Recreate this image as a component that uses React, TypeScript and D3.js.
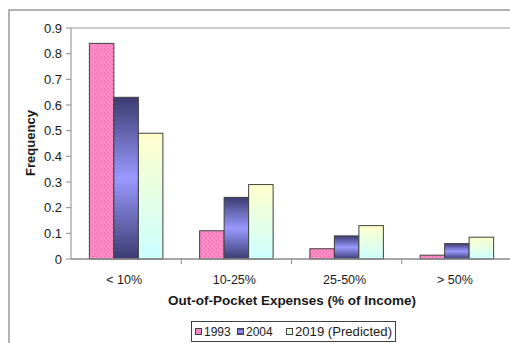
import React from "react";
import * as d3 from "d3";

const categories = ["< 10%", "10-25%", "25-50%", "> 50%"];
const seriesNames = ["1993", "2004", "2019 (Predicted)"];
const values1993 = [0.84, 0.11, 0.04, 0.015];
const values2004 = [0.63, 0.24, 0.09, 0.06];
const values2019 = [0.49, 0.29, 0.13, 0.085];
const yTicks = [0, 0.1, 0.2, 0.3, 0.4, 0.5, 0.6, 0.7, 0.8, 0.9];

const seriesValues = [values1993, values2004, values2019];
const fills = ["url(#pinkPat)", "url(#blueGrad)", "url(#yellowGrad)"];

export default function App() {
  const W = 510, H = 343;
  const left = 71, right = 512, top = 28, bottom = 259;
  const x = d3.scaleBand<string>().domain(categories).range([left, right]).paddingInner(0).paddingOuter(0);
  const y = d3.scaleLinear().domain([0, 0.9]).range([bottom, top]);
  const bw = x.bandwidth() / 4.5;
  const font = "'Liberation Sans', Arial, sans-serif";
  const textCol = "#1a1a1a";
  const legendX = [195, 237, 286];

  return (
    <svg width={W} height={H} style={{ position: "absolute", left: 0, top: 0, display: "block" }} fontFamily={font}>
      <defs>
        <pattern id="pinkPat" patternUnits="userSpaceOnUse" width="4" height="4">
          <rect width="4" height="4" fill="#FF8AC8" />
          <rect x="0" y="0" width="1" height="1" fill="#E070A8" />
          <rect x="2" y="2" width="1" height="1" fill="#E070A8" />
        </pattern>
        <linearGradient id="blueGrad" x1="0" y1="0" x2="0" y2="1">
          <stop offset="0" stopColor="#3C3C72" />
          <stop offset="0.5" stopColor="#9999FF" />
          <stop offset="1" stopColor="#3C3C72" />
        </linearGradient>
        <linearGradient id="yellowGrad" x1="0" y1="0" x2="0" y2="1">
          <stop offset="0" stopColor="#FFFFCC" />
          <stop offset="1" stopColor="#CCFFFF" />
        </linearGradient>
      </defs>
      <rect x={0} y={0} width={W} height={H} fill="#fff" />
      {/* outer chart border */}
      <path d={`M9,${H} V10 H${W}`} fill="none" stroke="#9a9a9a" strokeWidth={1.5} />
      {/* plot area top border */}
      <line x1={left} x2={W} y1={top} y2={top} stroke="#9a9a9a" strokeWidth={1} />
      {/* bars */}
      {categories.map((c, ci) => (
        <g key={c}>
          {seriesValues.map((vals, si) => {
            const x0 = (x(c) as number) + bw * 0.75 + si * bw;
            return (
              <rect key={si} x={x0} y={y(vals[ci])} width={bw} height={bottom - y(vals[ci])}
                fill={fills[si]} stroke="#404040" strokeWidth={1} />
            );
          })}
        </g>
      ))}
      {/* y axis */}
      <line x1={left} x2={left} y1={top} y2={bottom} stroke="#8a8a8a" strokeWidth={1} />
      {yTicks.map((t) => (
        <g key={t}>
          <line x1={left - 5} x2={left} y1={y(t)} y2={y(t)} stroke="#8a8a8a" />
          <text x={left - 9} y={y(t)} dy="0.35em" textAnchor="end" fontSize={13} fill={textCol}>{t === 0 ? "0" : t.toFixed(1)}</text>
        </g>
      ))}
      {/* x axis */}
      <line x1={left} x2={W} y1={bottom} y2={bottom} stroke="#8a8a8a" strokeWidth={1.5} />
      {categories.map((c, i) => (
        <g key={c}>
          {i > 0 && <line x1={x(c) as number} x2={x(c) as number} y1={bottom} y2={bottom + 5} stroke="#8a8a8a" />}
          <text x={(x(c) as number) + x.bandwidth() / 2 - 2} y={280} dy="0.35em" textAnchor="middle" fontSize={12.5} fill={textCol}>{c}</text>
        </g>
      ))}
      <text x={292} y={300} dy="0.35em" textAnchor="middle" fontSize={13} fontWeight="bold" fill={textCol}
        textLength={248} lengthAdjust="spacingAndGlyphs">Out-of-Pocket Expenses (% of Income)</text>
      <text transform={`translate(30,143) rotate(-90)`} dy="0.35em" textAnchor="middle" fontSize={13} fontWeight="bold" fill={textCol}>Frequency</text>
      {/* legend */}
      <rect x={191.5} y={321.5} width={204} height={20} fill="#fff" stroke="#404040" strokeWidth={1} />
      {seriesNames.map((n, i) => {
        const lx = legendX[i];
        return (
          <g key={n}>
            <rect x={lx + 0.5} y={328.5} width={6} height={6} fill={fills[i]} stroke="#404040" />
            <text x={lx + 9} y={331.5} dy="0.35em" fontSize={12} fill={textCol}
              textLength={i === 2 ? 97 : undefined} lengthAdjust={i === 2 ? "spacingAndGlyphs" : undefined}>{n}</text>
          </g>
        );
      })}
    </svg>
  );
}
